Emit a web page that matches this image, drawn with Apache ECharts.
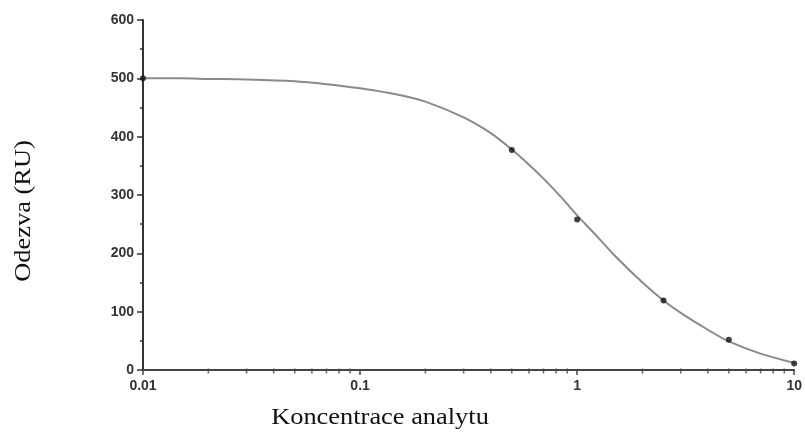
<!DOCTYPE html>
<html>
<head>
<meta charset="utf-8">
<script src="https://cdn.jsdelivr.net/npm/echarts@6/dist/echarts.min.js"></script>
<style>
html,body{margin:0;padding:0;background:#fff;}
#chart{width:805px;height:432px;}
</style>
</head>
<body>
<div id="chart"></div>
<script>
// Measured data points (concentration, response)
const pointX = [0.01, 0.5, 1, 2.5, 5, 10];
const pointY = [500, 377, 258, 119, 52, 11];

// Fitted curve
const curveX = [0.01, 0.015, 0.02, 0.03, 0.05, 0.07, 0.1, 0.15, 0.2, 0.3, 0.4, 0.5, 0.6, 0.7, 0.85, 1, 1.25, 1.5, 2, 2.5, 3, 4, 5, 7, 10];
const curveY = [500, 500, 499, 498, 495, 490, 483, 472, 460, 433, 406, 378, 352, 328, 295, 265, 227, 195, 150, 119, 98, 69, 49, 28, 12];

// Axis ticks
const xTickLabels = ['0.01', '0.1', '1', '10'];
const xMinorTicks = [0.02,0.03,0.04,0.05,0.06,0.07,0.08,0.09,0.2,0.3,0.4,0.5,0.6,0.7,0.8,0.9,2,3,4,5,6,7,8,9];
const yTicks = [0, 100, 200, 300, 400, 500, 600];

const xTitle = 'Koncentrace analytu';
const yTitle = 'Odezva (RU)';

const chart = echarts.init(document.getElementById('chart'), null, {renderer: 'canvas'});
const labelStyle = {fontFamily: 'Liberation Sans', fontWeight: 'bold', fontSize: 14, color: '#333'};

chart.setOption({
  animation: false,
  backgroundColor: '#fff',
  grid: {left: 143, right: 10, top: 20, bottom: 62, containLabel: false},
  xAxis: {
    type: 'log', logBase: 10, min: 0.01, max: 10,
    axisLine: {show: true, lineStyle: {color: '#444', width: 2}},
    axisTick: {show: true, length: 5, lineStyle: {color: '#444', width: 1.5}},
    axisLabel: Object.assign({margin: 9, formatter: function (v) {
      const i = Math.round(Math.log10(v)) + 2;
      return xTickLabels[i] !== undefined ? xTickLabels[i] : '';
    }}, labelStyle),
    splitLine: {show: false},
    minorTick: {show: false}
  },
  yAxis: {
    type: 'value', min: yTicks[0], max: yTicks[yTicks.length - 1], interval: 100,
    axisLine: {show: true, lineStyle: {color: '#333', width: 2}},
    axisTick: {show: true, length: 6, lineStyle: {color: '#333', width: 1.5}},
    minorTick: {show: true, splitNumber: 2, length: 3, lineStyle: {color: '#333', width: 1.5}},
    axisLabel: Object.assign({margin: 9}, labelStyle),
    splitLine: {show: false}
  },
  graphic: [
    {type: 'text', x: 380, y: 418, scaleX: 1.1,
     style: {text: xTitle, font: '24px "Liberation Serif"', fill: '#111', align: 'center', verticalAlign: 'middle'}},
    {type: 'text', x: 24, y: 211, rotation: Math.PI / 2, scaleX: 1.1,
     style: {text: yTitle, font: '24px "Liberation Serif"', fill: '#111', align: 'center', verticalAlign: 'middle'}}
  ],
  series: [
    {
      type: 'line', name: 'fit', smooth: 0.3, showSymbol: false, clip: false,
      data: curveX.map((x, i) => [x, curveY[i]]),
      lineStyle: {color: '#8a8a8a', width: 2},
      z: 2
    },
    {
      type: 'scatter', name: 'data', clip: false,
      data: pointX.map((x, i) => [x, pointY[i]]),
      symbol: 'circle', symbolSize: 6,
      itemStyle: {color: '#111'},
      z: 4
    },
    {
      type: 'scatter', name: 'minorTicks', clip: false, silent: true,
      data: xMinorTicks.map(x => [x, 0]),
      symbol: 'rect', symbolSize: [1.5, 5], symbolOffset: [0, 1],
      itemStyle: {color: '#444'},
      z: 3
    }
  ]
});
</script>
</body>
</html>
